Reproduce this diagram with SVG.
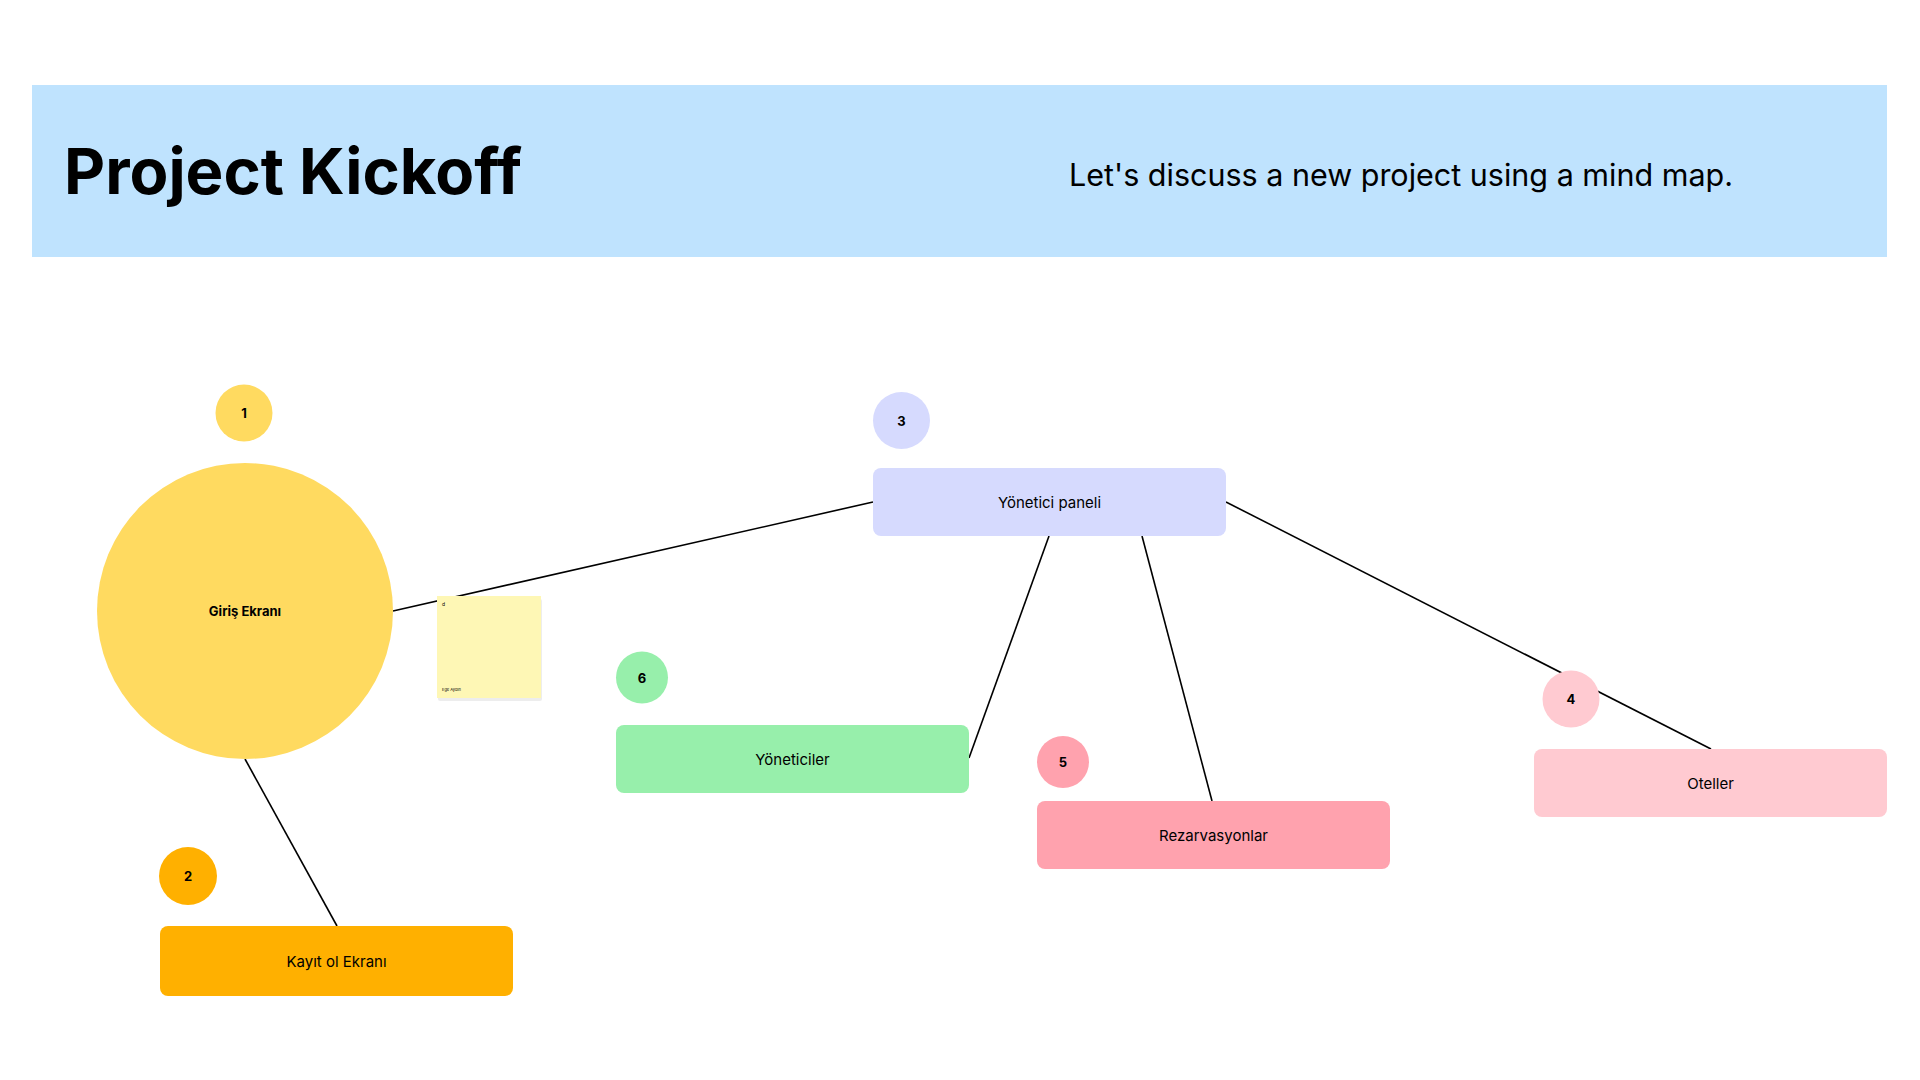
<svg xmlns="http://www.w3.org/2000/svg" width="1920" height="1080" viewBox="0 0 1920 1080">
<style>
  .t{font-family:Inter,"Liberation Sans",sans-serif;fill:#000;}
  .lbl{font-size:15px;text-anchor:middle;dominant-baseline:central;}
  .num{font-size:13px;font-weight:700;text-anchor:middle;dominant-baseline:central;}
  .edge{stroke:#000;stroke-width:1.6;fill:none;}
  .box{rx:8;ry:8;}
</style>
<rect width="1920" height="1080" fill="#fff"/>
<g id="header">
  <rect x="32" y="85" width="1855" height="172" fill="#BFE3FE"/>
  <text class="t" x="64" y="194" font-size="63.5" font-weight="700">Project Kickoff</text>
  <text class="t" x="1069" y="186" font-size="30.5">Let's discuss a new project using a mind map.</text>
</g>
<g id="connectors">
  <line class="edge" x1="393" y1="611" x2="873" y2="502"/>
  <line class="edge" x1="245" y1="759" x2="337" y2="926"/>
  <line class="edge" x1="1049" y1="536" x2="969" y2="758"/>
  <line class="edge" x1="1142" y1="536" x2="1212" y2="801"/>
  <line class="edge" x1="1226" y1="502" x2="1711" y2="749"/>
</g>
<g id="badge1"><circle cx="244" cy="413" r="28.5" fill="#FFDA60"/><text class="t num" x="244" y="413">1</text></g>
<g id="giris"><circle cx="245" cy="611" r="148" fill="#FFDA60"/><text class="t" x="245" y="611" font-size="13" font-weight="700" text-anchor="middle" dominant-baseline="central">Giriş Ekranı</text></g>
<g id="badge2"><circle cx="188" cy="876" r="29" fill="#FFB000"/><text class="t num" x="188" y="876">2</text></g>
<g id="kayit"><rect class="box" x="160" y="926" width="353" height="70" fill="#FFB000"/><text class="t lbl" x="336.5" y="961">Kayıt ol Ekranı</text></g>
<g id="badge3"><circle cx="901.5" cy="420.5" r="28.5" fill="#D6DAFE"/><text class="t num" x="901.5" y="420.5">3</text></g>
<g id="panel"><rect class="box" x="873" y="468" width="353" height="68" fill="#D6DAFE"/><text class="t lbl" x="1049.5" y="502">Yönetici paneli</text></g>
<g id="badge6"><circle cx="642" cy="677.5" r="26" fill="#97EFAB"/><text class="t num" x="642" y="677.5">6</text></g>
<g id="yoneticiler"><rect class="box" x="616" y="725" width="353" height="68" fill="#97EFAB"/><text class="t lbl" x="792.5" y="759">Yöneticiler</text></g>
<g id="badge5"><circle cx="1063" cy="762" r="26" fill="#FFA2AE"/><text class="t num" x="1063" y="762">5</text></g>
<g id="rezarvasyonlar"><rect class="box" x="1037" y="801" width="353" height="68" fill="#FFA2AE"/><text class="t lbl" x="1213.5" y="835">Rezarvasyonlar</text></g>
<g id="badge4"><circle cx="1571" cy="699" r="28.5" fill="#FFCAD1"/><text class="t num" x="1571" y="699">4</text></g>
<g id="oteller"><rect class="box" x="1534" y="749" width="353" height="68" fill="#FFCAD1"/><text class="t lbl" x="1710.5" y="783">Oteller</text></g>
<g id="sticky">
  <rect x="438" y="599" width="104" height="102" rx="2" fill="#E6E6E6" opacity="0.7"/>
  <rect x="437" y="596" width="104" height="102" fill="#FEF7B5"/>
  <text class="t" x="442" y="606" font-size="5">d</text>
  <text class="t" x="442" y="691" font-size="4" fill="#555">Ege Aydın</text>
</g>
</svg>
